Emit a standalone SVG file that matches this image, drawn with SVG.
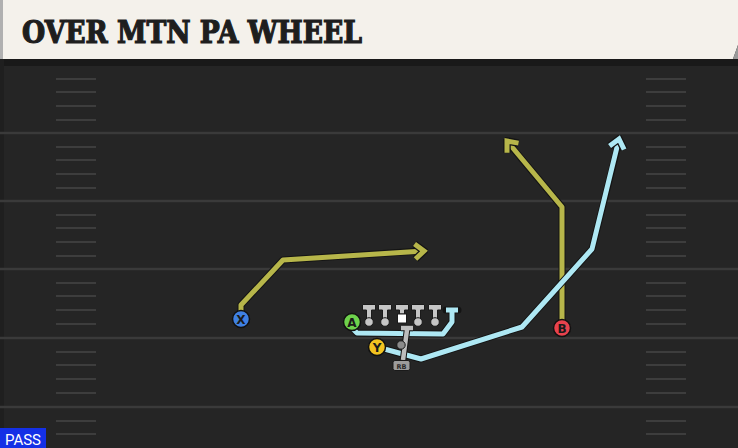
<svg xmlns="http://www.w3.org/2000/svg" width="738" height="448" viewBox="0 0 738 448">
<defs>
<style>
.field{fill:#252525}
.yl{stroke:#3a3a3a;stroke-width:2.5;fill:none}
.hm{stroke:#3d3d3d;stroke-width:2;fill:none}
.out{stroke:#141414;stroke-width:7;fill:none;stroke-linejoin:round;stroke-linecap:round}
.olive{stroke:#b7b64a;stroke-width:5;fill:none;stroke-linejoin:round}
.cyan{stroke:#aee8f4;stroke-width:5;fill:none;stroke-linejoin:round}
.gray{stroke:#bdbdbd;stroke-width:4.5;fill:none}
.lm{fill:#c6c6c6;stroke:#1a1a1a;stroke-width:1}
.pl{stroke:#111;stroke-width:1.5}
.lbl{font-family:"DejaVu Sans",sans-serif;font-weight:bold;font-size:12px;fill:#1a1a1a;text-anchor:middle}
</style>
<marker id="aO" markerUnits="userSpaceOnUse" viewBox="-14 -12 18 24" refX="0" refY="0" markerWidth="18" markerHeight="24" orient="auto">
<path d="M-9,-7.5 L0,0 L-9,7.5" fill="none" stroke="#141414" stroke-width="7.5" stroke-linejoin="miter"/>
<path d="M-9,-7.5 L0,0 L-9,7.5" fill="none" stroke="#b7b64a" stroke-width="5" stroke-linejoin="miter"/>
</marker>
<marker id="aC" markerUnits="userSpaceOnUse" viewBox="-14 -12 18 24" refX="0" refY="0" markerWidth="18" markerHeight="24" orient="auto">
<path d="M-9,-7.5 L0,0 L-9,7.5" fill="none" stroke="#141414" stroke-width="7.5" stroke-linejoin="miter"/>
<path d="M-9,-7.5 L0,0 L-9,7.5" fill="none" stroke="#aee8f4" stroke-width="5" stroke-linejoin="miter"/>
</marker>
</defs>

<g id="background">
<rect class="field" x="0" y="0" width="738" height="448"/>
<rect x="0" y="59" width="738" height="7" fill="#191919"/>
<rect x="0" y="59" width="4" height="389" fill="#1f1f1f"/>
<g id="yardlines">
<path class="yl" d="M0,133H738M0,201H738M0,269H738M0,338H738M0,407H738"/>
</g>
<g id="hashes">
<path class="hm" d="M56,79H96M56,92H96M56,106H96M56,120H96M56,147H96M56,160H96M56,174H96M56,188H96M56,215H96M56,228H96M56,242H96M56,256H96M56,283H96M56,296H96M56,310H96M56,324H96M56,352H96M56,365H96M56,379H96M56,393H96M56,421H96M56,434H96"/>
<path class="hm" d="M646,79H686M646,92H686M646,106H686M646,120H686M646,147H686M646,160H686M646,174H686M646,188H686M646,215H686M646,228H686M646,242H686M646,256H686M646,283H686M646,296H686M646,310H686M646,324H686M646,352H686M646,365H686M646,379H686M646,393H686M646,421H686M646,434H686"/>
</g>
</g>

<g id="title">
<path d="M0,0H738V45L733,59H0Z" fill="#f4f1eb"/>
<rect x="0" y="0" width="3" height="59" fill="#b0b0b0"/>
<path d="M733,59L738,45V59Z" fill="#9a9a9a"/>
<text x="22" y="43" font-family="'DejaVu Serif Condensed','DejaVu Serif',serif" font-weight="bold" font-size="31" fill="#1e1e1e" stroke="#1e1e1e" stroke-width="1.2" textLength="340" lengthAdjust="spacingAndGlyphs">OVER MTN PA WHEEL</text>
</g>

<g id="connectors">
<g id="route-x">
<path class="out" d="M241,311 L241,305 L283,260 L420,251"/>
<path class="olive" d="M241,311 L241,305 L283,260 L424,251" marker-end="url(#aO)"/>
</g>
<g id="route-b">
<path class="out" d="M562,320 L562,207 L510,145"/>
<path class="olive" d="M562,320 L562,207 L507,141" marker-end="url(#aO)"/>
</g>
<g id="route-y">
<path class="out" d="M377,347 L421,359 L522,327 L592,249 L618,145"/>
<path class="cyan" d="M377,347 L421,359 L522,327 L592,249 L619,139" marker-end="url(#aC)"/>
</g>
<g id="route-a">
<path class="out" d="M352,328 L357,333 L443,334 L452,322 L452,311 M446,310 L458,310"/>
<path class="cyan" d="M352,328 L357,333 L443,334 L452,322 L452,311 M446,310 L458,310"/>
</g>
<g id="route-rb">
<path d="M403,360 L407,330 M401,328 L413,328" stroke="#141414" stroke-width="6.5" fill="none"/>
<path class="gray" d="M403,360 L407,330 M401,328 L413,328"/>
</g>
</g>

<g id="ol">
<g id="lt"><path class="lm" d="M362.5,304.5H375.5V310H371.5V319H366.5V310H362.5Z"/><circle class="lm" cx="369" cy="322" r="4.3"/></g>
<g id="lg"><path class="lm" d="M378.5,304.5H391.5V310H387.5V319H382.5V310H378.5Z"/><circle class="lm" cx="385" cy="322" r="4.3"/></g>
<g id="c"><path class="lm" d="M395.5,304.5H408.5V310H404.5V314H399.5V310H395.5Z"/><rect x="397.5" y="314" width="9" height="9" fill="#ffffff" stroke="#1a1a1a" stroke-width="1"/></g>
<g id="rg"><path class="lm" d="M411.5,304.5H424.5V310H420.5V319H415.5V310H411.5Z"/><circle class="lm" cx="418" cy="322" r="4.3"/></g>
<g id="rt"><path class="lm" d="M428.5,304.5H441.5V310H437.5V319H432.5V310H428.5Z"/><circle class="lm" cx="435" cy="322" r="4.3"/></g>
</g>

<g id="qb"><circle cx="401" cy="345" r="4.2" fill="#8a8a8a" stroke="#1a1a1a" stroke-width="1"/></g>

<g id="rb">
<rect x="393" y="360.5" width="17" height="10" rx="2" fill="#9c9c9c" stroke="#1a1a1a" stroke-width="1"/>
<text x="401.5" y="368.5" font-family="'DejaVu Sans',sans-serif" font-size="6.5" font-weight="bold" fill="#2a2a2a" text-anchor="middle">RB</text>
</g>

<g id="x"><circle class="pl" cx="241" cy="319" r="8.5" fill="#3f80e2"/><text class="lbl" x="241" y="323.5">X</text></g>
<g id="a"><circle class="pl" cx="352" cy="322" r="8.5" fill="#6ed24c"/><text class="lbl" x="352" y="326.5">A</text></g>
<g id="y"><circle class="pl" cx="377" cy="347" r="8.5" fill="#f3c320"/><text class="lbl" x="377" y="351.5">Y</text></g>
<g id="b"><circle class="pl" cx="562" cy="328" r="8.5" fill="#e8424d"/><text class="lbl" x="562" y="332.5">B</text></g>

<g id="pass">
<rect x="0" y="428" width="46" height="20" fill="#1430e6"/>
<text x="23" y="444.5" font-family="'Roboto','Liberation Sans',sans-serif" font-size="15" fill="#ffffff" text-anchor="middle">PASS</text>
</g>
</svg>
